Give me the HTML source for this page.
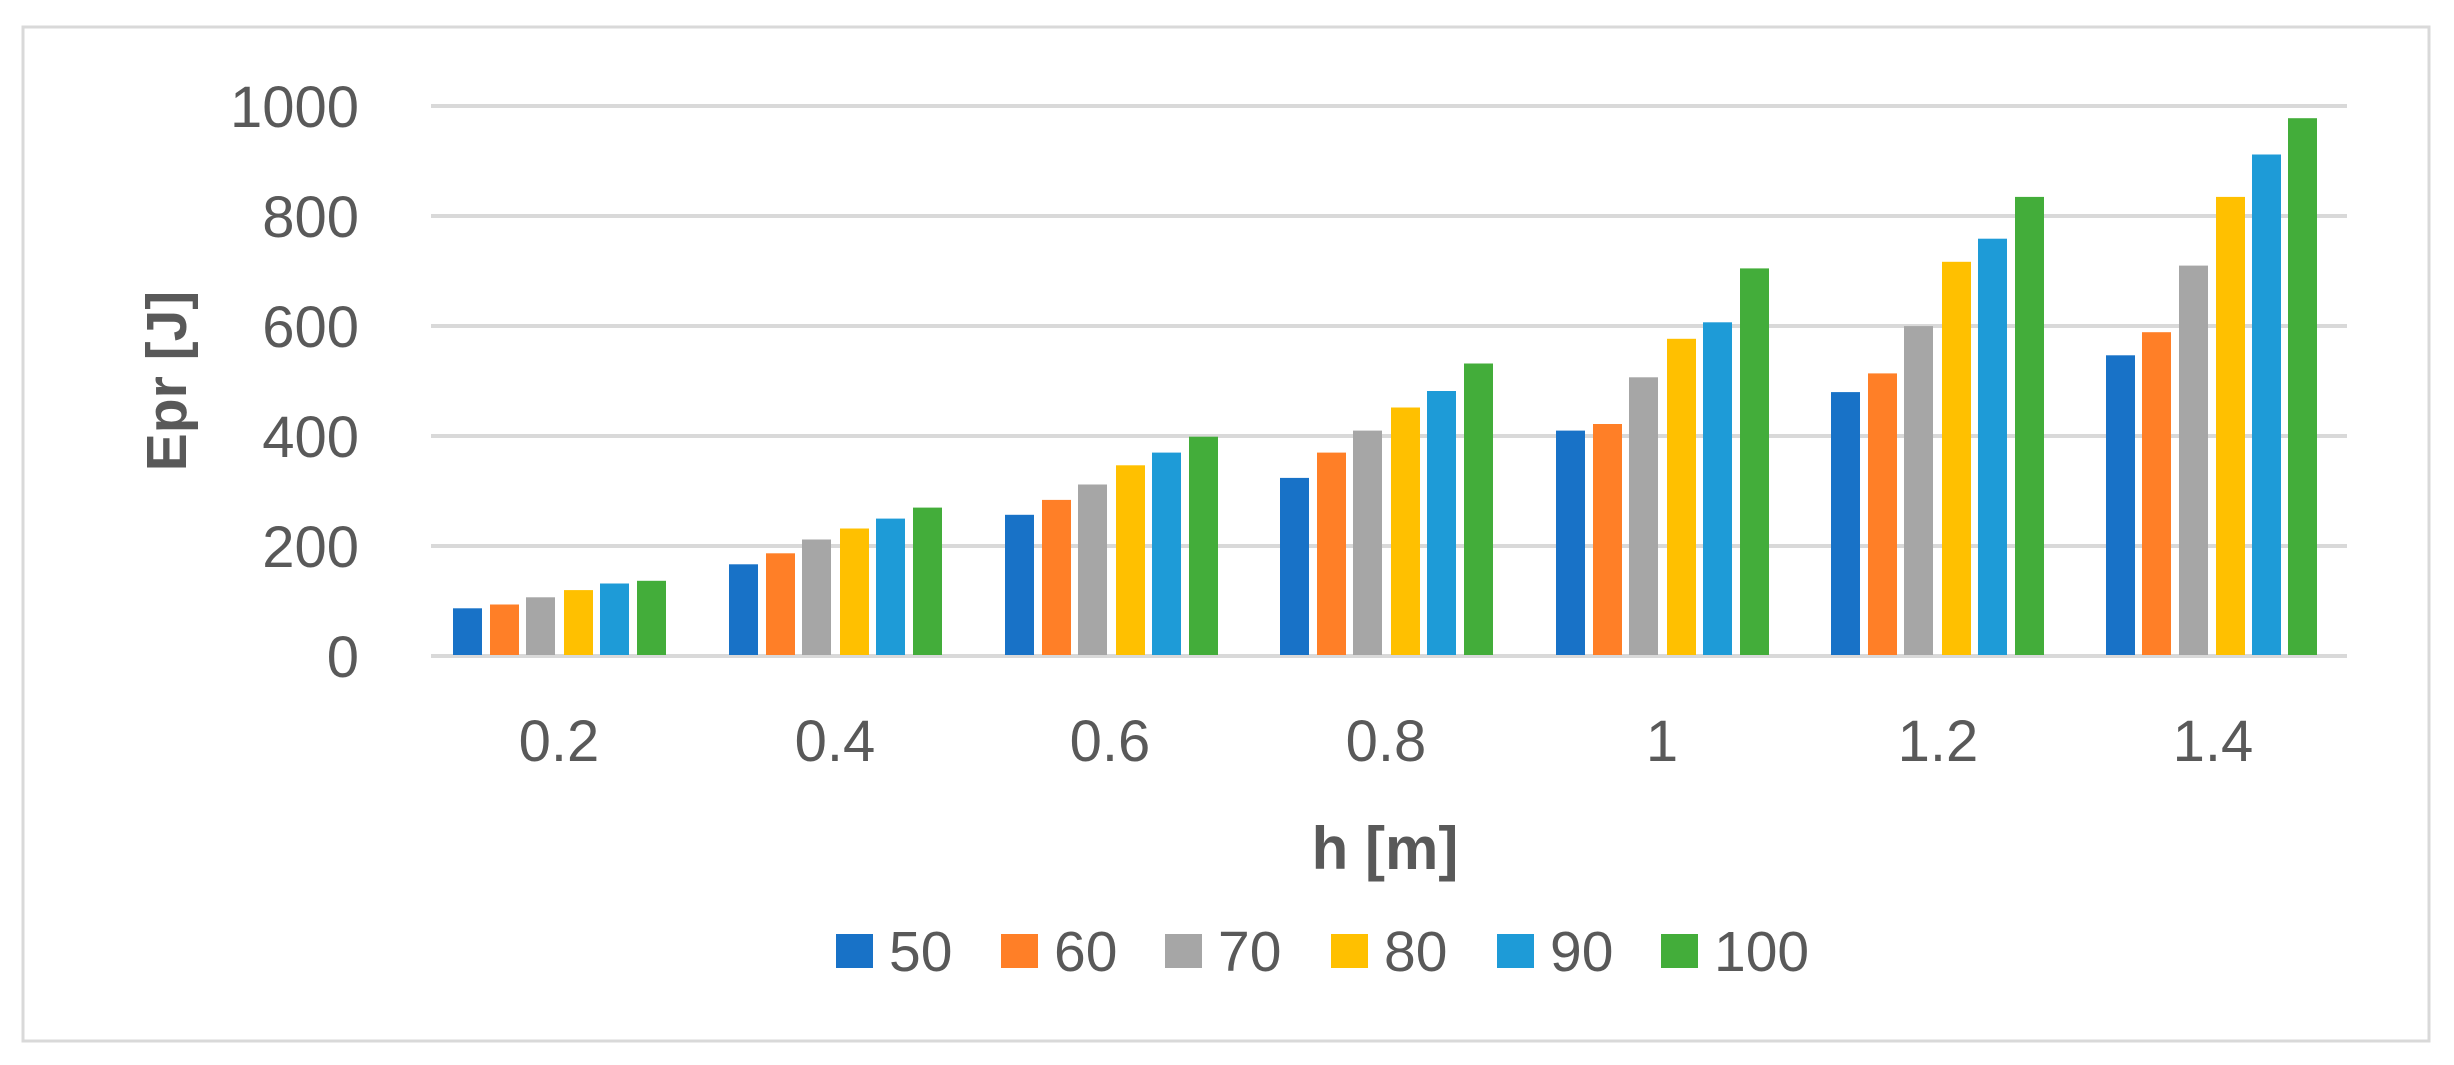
<!DOCTYPE html>
<html><head><meta charset="utf-8"><style>
html,body{margin:0;padding:0;background:#fff;}
svg{display:block;}
text{font-family:"Liberation Sans",sans-serif;fill:#595959;}
</style></head><body>
<svg width="2454" height="1065" viewBox="0 0 2454 1065" xmlns="http://www.w3.org/2000/svg">
<rect x="0" y="0" width="2454" height="1065" fill="#fff"/>
<rect x="23" y="27" width="2406" height="1014" fill="#fff" stroke="#d9d9d9" stroke-width="3"/>
<g stroke="#d9d9d9" stroke-width="4">
<line x1="431" y1="106" x2="2347" y2="106"/>
<line x1="431" y1="216" x2="2347" y2="216"/>
<line x1="431" y1="326" x2="2347" y2="326"/>
<line x1="431" y1="436" x2="2347" y2="436"/>
<line x1="431" y1="546" x2="2347" y2="546"/>
<line x1="431" y1="656" x2="2347" y2="656"/>
</g>
<g font-size="58" text-anchor="end">
<text x="359" y="127">1000</text>
<text x="359" y="237">800</text>
<text x="359" y="347">600</text>
<text x="359" y="457">400</text>
<text x="359" y="567">200</text>
<text x="359" y="677">0</text>
</g>
<text transform="translate(186,381) rotate(-90)" font-size="57" font-weight="bold" text-anchor="middle">Epr [J]</text>
<g font-size="58" text-anchor="middle">
<text x="559" y="761">0.2</text>
<text x="835" y="761">0.4</text>
<text x="1110" y="761">0.6</text>
<text x="1386" y="761">0.8</text>
<text x="1662" y="761">1</text>
<text x="1938" y="761">1.2</text>
<text x="2213" y="761">1.4</text>
</g>
<text x="1385" y="869" font-size="60" font-weight="bold" text-anchor="middle">h [m]</text>
<g font-size="57">
<rect x="836" y="934" width="37" height="34" fill="#1872C7"/><text x="889" y="971">50</text>
<rect x="1001" y="934" width="37" height="34" fill="#FF7F27"/><text x="1054" y="971">60</text>
<rect x="1165" y="934" width="37" height="34" fill="#A6A6A6"/><text x="1218" y="971">70</text>
<rect x="1331" y="934" width="37" height="34" fill="#FFC000"/><text x="1384" y="971">80</text>
<rect x="1497" y="934" width="37" height="34" fill="#1E9BD7"/><text x="1550" y="971">90</text>
<rect x="1661" y="934" width="37" height="34" fill="#43AD3A"/><text x="1714" y="971">100</text>
</g>
<g>
<rect x="453" y="608.3" width="29" height="46.7" fill="#1872C7"/>
<rect x="490" y="604.5" width="29" height="50.5" fill="#FF7F27"/>
<rect x="526" y="597.3" width="29" height="57.7" fill="#A6A6A6"/>
<rect x="564" y="590.1" width="29" height="64.9" fill="#FFC000"/>
<rect x="600" y="583.5" width="29" height="71.5" fill="#1E9BD7"/>
<rect x="637" y="580.8" width="29" height="74.2" fill="#43AD3A"/>
<rect x="729" y="564.3" width="29" height="90.7" fill="#1872C7"/>
<rect x="766" y="553.3" width="29" height="101.7" fill="#FF7F27"/>
<rect x="802" y="539.5" width="29" height="115.5" fill="#A6A6A6"/>
<rect x="840" y="528.5" width="29" height="126.5" fill="#FFC000"/>
<rect x="876" y="518.6" width="29" height="136.4" fill="#1E9BD7"/>
<rect x="913" y="507.6" width="29" height="147.4" fill="#43AD3A"/>
<rect x="1005" y="514.8" width="29" height="140.2" fill="#1872C7"/>
<rect x="1042" y="499.9" width="29" height="155.1" fill="#FF7F27"/>
<rect x="1078" y="484.5" width="29" height="170.5" fill="#A6A6A6"/>
<rect x="1116" y="465.3" width="29" height="189.7" fill="#FFC000"/>
<rect x="1152" y="452.6" width="29" height="202.4" fill="#1E9BD7"/>
<rect x="1189" y="436.7" width="29" height="218.3" fill="#43AD3A"/>
<rect x="1280" y="477.9" width="29" height="177.1" fill="#1872C7"/>
<rect x="1317" y="452.6" width="29" height="202.4" fill="#FF7F27"/>
<rect x="1353" y="430.6" width="29" height="224.4" fill="#A6A6A6"/>
<rect x="1391" y="407.5" width="29" height="247.5" fill="#FFC000"/>
<rect x="1427" y="391" width="29" height="264" fill="#1E9BD7"/>
<rect x="1464" y="363.5" width="29" height="291.5" fill="#43AD3A"/>
<rect x="1556" y="430.6" width="29" height="224.4" fill="#1872C7"/>
<rect x="1593" y="424" width="29" height="231" fill="#FF7F27"/>
<rect x="1629" y="377.3" width="29" height="277.7" fill="#A6A6A6"/>
<rect x="1667" y="338.8" width="29" height="316.2" fill="#FFC000"/>
<rect x="1703" y="322.3" width="29" height="332.7" fill="#1E9BD7"/>
<rect x="1740" y="268.4" width="29" height="386.6" fill="#43AD3A"/>
<rect x="1831" y="392.1" width="29" height="262.9" fill="#1872C7"/>
<rect x="1868" y="373.4" width="29" height="281.6" fill="#FF7F27"/>
<rect x="1904" y="326.1" width="29" height="328.9" fill="#A6A6A6"/>
<rect x="1942" y="261.8" width="29" height="393.2" fill="#FFC000"/>
<rect x="1978" y="238.7" width="29" height="416.3" fill="#1E9BD7"/>
<rect x="2015" y="196.9" width="29" height="458.1" fill="#43AD3A"/>
<rect x="2106" y="355.3" width="29" height="299.7" fill="#1872C7"/>
<rect x="2142" y="332.2" width="29" height="322.8" fill="#FF7F27"/>
<rect x="2179" y="265.6" width="29" height="389.4" fill="#A6A6A6"/>
<rect x="2216" y="196.9" width="29" height="458.1" fill="#FFC000"/>
<rect x="2252" y="154.5" width="29" height="500.5" fill="#1E9BD7"/>
<rect x="2288" y="118.2" width="29" height="536.8" fill="#43AD3A"/>
</g>
</svg>
</body></html>
